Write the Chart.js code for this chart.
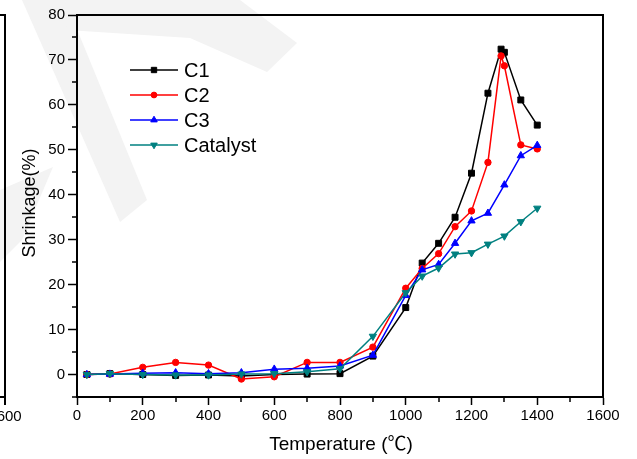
<!DOCTYPE html>
<html>
<head>
<meta charset="utf-8">
<script src="https://cdn.jsdelivr.net/npm/chart.js@4/dist/chart.umd.min.js"></script>
<style>
html,body{margin:0;padding:0;background:#fff;}
#wrap{width:637px;height:459px;}
</style>
</head>
<body>
<div id="wrap"><canvas id="c" width="637" height="459"></canvas></div>
<script>
// ---- data ----
const tempsC1C2 = [30,100,200,300,400,500,600,700,800,900,1000,1050,1100,1150,1200,1250,1290,1300,1350,1400];
const c1 = [0,0.2,0,-0.2,-0.1,-0.3,0,0.1,0.2,4.1,14.9,24.8,29.2,35.0,44.8,62.6,72.4,71.7,61.1,55.5];
const c2 = [0,0.1,1.6,2.7,2.1,-1.0,-0.5,2.7,2.7,6.1,19.2,23.6,26.9,32.9,36.4,47.2,70.9,68.7,51.1,50.2];
const tempsC3Cat = [30,100,200,300,400,500,600,700,800,900,1000,1050,1100,1150,1200,1250,1300,1350,1400];
const c3 = [0,0.1,0.3,0.4,0.2,0.4,1.2,1.4,1.9,4.3,17.6,23.3,24.5,29.2,34.2,35.9,42.2,48.7,51.0];
const catalyst = [0,0.2,0,-0.1,-0.1,0.1,0.2,0.6,1.3,8.5,18.2,21.9,23.7,26.8,27.1,29.0,30.8,34.0,37.0];
const seriesNames = ['C1','C2','C3','Catalyst'];
const xTicks = [0,200,400,600,800,1000,1200,1400,1600];
const xMinorTicks = [100,300,500,700,900,1100,1300,1500];
const yTicks = [0,10,20,30,40,50,60,70,80];
const yMinorTicks = [-5,5,15,25,35,45,55,65,75];
const xTitle = 'Temperature (\u2103)';
const yTitle = 'Shrinkage(%)';

const FONT = '"Liberation Sans", Arial, "Noto Sans CJK SC", sans-serif';

function pts(xs, ys){ return xs.map((x,i)=>({x:x, y:ys[i]})); }

const colors = ['#000000','#ff0000','#0000ff','#008080'];
const styles = [
  {pointStyle:'rect', rotation:0, radius:4.2},
  {pointStyle:'circle', rotation:0, radius:3.2},
  {pointStyle:'triangle', rotation:0, radius:4.2},
  {pointStyle:'triangle', rotation:180, radius:4.2}
];
const dataSets = [pts(tempsC1C2,c1), pts(tempsC1C2,c2), pts(tempsC3Cat,c3), pts(tempsC3Cat,catalyst)];

const datasets = dataSets.map((d,i)=>({
  label: seriesNames[i],
  data: d,
  borderColor: colors[i],
  backgroundColor: colors[i],
  borderWidth: 1.5,
  pointStyle: styles[i].pointStyle,
  pointRotation: styles[i].rotation,
  pointRadius: styles[i].radius,
  pointBorderWidth: 1,
  pointBackgroundColor: colors[i],
  pointBorderColor: colors[i],
  tension: 0,
  order: 4 - i
}));

const decor = {
  id: 'decor',
  beforeDraw(chart){
    const ctx = chart.ctx;
    ctx.save();
    ctx.fillStyle = '#ffffff';
    ctx.fillRect(0,0,chart.width,chart.height);
    // faint watermark
    ctx.fillStyle = '#f3f3f3';
    ctx.beginPath();
    ctx.moveTo(22,0); ctx.lineTo(65,0); ctx.lineTo(147,200); ctx.lineTo(120,222); ctx.closePath();
    ctx.fill();
    ctx.beginPath();
    ctx.moveTo(65,0); ctx.lineTo(240,0); ctx.lineTo(297,43); ctx.lineTo(267,72); ctx.lineTo(190,38); ctx.lineTo(67,30); ctx.closePath();
    ctx.fill();
    ctx.beginPath();
    ctx.moveTo(0,190); ctx.lineTo(53,167); ctx.lineTo(22,240); ctx.lineTo(0,262); ctx.closePath();
    ctx.fill();
    ctx.restore();
  },
  afterDraw(chart){
    const ctx = chart.ctx;
    const a = chart.chartArea;
    const xs = chart.scales.x, ys = chart.scales.y;
    ctx.save();
    // frame top and right
    ctx.strokeStyle = '#000';
    ctx.lineWidth = 2;
    ctx.beginPath();
    ctx.moveTo(a.left-1, a.top); ctx.lineTo(a.right, a.top); ctx.lineTo(a.right, a.bottom+1);
    ctx.stroke();
    // minor ticks
    ctx.lineWidth = 1.5;
    ctx.beginPath();
    xMinorTicks.forEach(v=>{ const p = Math.round(xs.getPixelForValue(v)); ctx.moveTo(p, a.bottom); ctx.lineTo(p, a.bottom+5); });
    yMinorTicks.forEach(v=>{ const p = Math.round(ys.getPixelForValue(v)); ctx.moveTo(a.left, p); ctx.lineTo(a.left-5, p); });
    ctx.stroke();
    // left neighbouring panel fragment
    ctx.lineWidth = 2;
    ctx.beginPath();
    ctx.moveTo(0, a.top); ctx.lineTo(5, a.top); ctx.lineTo(5, a.bottom); ctx.lineTo(0, a.bottom);
    ctx.moveTo(5, a.bottom); ctx.lineTo(5, a.bottom+8);
    ctx.stroke();
    ctx.fillStyle = '#000';
    ctx.font = '15px ' + FONT;
    ctx.textAlign = 'center';
    ctx.textBaseline = 'middle';
    ctx.fillText('1600', 5, 417);
    // axis titles
    ctx.font = '19px ' + FONT;
    ctx.fillText(xTitle, (a.left + a.right)/2 + 1, 445);
    ctx.font = '18px ' + FONT;
    ctx.save();
    ctx.translate(30, 203);
    ctx.rotate(-Math.PI/2);
    ctx.fillText(yTitle, 0, 0);
    ctx.restore();
    // legend
    const lx1 = 130, lx2 = 178, ly0 = 70, ldy = 25;
    chart.data.datasets.forEach((ds,i)=>{
      const y = ly0 + i*ldy;
      ctx.strokeStyle = ds.borderColor;
      ctx.fillStyle = ds.borderColor;
      ctx.lineWidth = 1.5;
      ctx.beginPath(); ctx.moveTo(lx1,y); ctx.lineTo(lx2,y); ctx.stroke();
      ctx.lineWidth = 1;
      Chart.helpers.drawPoint(ctx, {pointStyle: ds.pointStyle, rotation: ds.pointRotation, radius: ds.pointRadius*0.9, borderWidth: 1}, (lx1+lx2)/2, y);
      ctx.fillStyle = '#000';
      ctx.font = '20px ' + FONT;
      ctx.textAlign = 'left';
      ctx.textBaseline = 'middle';
      ctx.fillText(ds.label, 184, y + 1);
    });
    ctx.restore();
  }
};

new Chart(document.getElementById('c'), {
  type: 'line',
  data: { datasets },
  options: {
    responsive: false,
    animation: false,
    devicePixelRatio: 1,
    layout: { padding: { top: 15, right: 34, left: 0, bottom: 0 } },
    plugins: { legend: { display: false }, tooltip: { enabled: false }, title: { display: false } },
    elements: { line: { fill: false } },
    scales: {
      x: {
        type: 'linear',
        min: 0, max: 1600,
        afterBuildTicks: s => { s.ticks = xTicks.map(v=>({value:v})); },
        afterFit: s => { s.height = 62; },
        grid: { display: true, drawOnChartArea: false, drawTicks: true, tickLength: 8, tickColor: '#000', tickWidth: 1.5 },
        border: { display: true, color: '#000', width: 2 },
        ticks: { color: '#000', font: { family: FONT, size: 15 }, padding: 2, maxRotation: 0, autoSkip: false, callback: v => String(v) }
      },
      y: {
        type: 'linear',
        min: -5, max: 80,
        afterBuildTicks: s => { s.ticks = yTicks.map(v=>({value:v})); },
        afterFit: s => { s.width = 77; },
        grid: { display: true, drawOnChartArea: false, drawTicks: true, tickLength: 9, tickColor: '#000', tickWidth: 1.5 },
        border: { display: true, color: '#000', width: 2 },
        ticks: { color: '#000', font: { family: FONT, size: 15 }, padding: 3, autoSkip: false, callback: v => String(v) }
      }
    }
  },
  plugins: [decor]
});
</script>
</body>
</html>
